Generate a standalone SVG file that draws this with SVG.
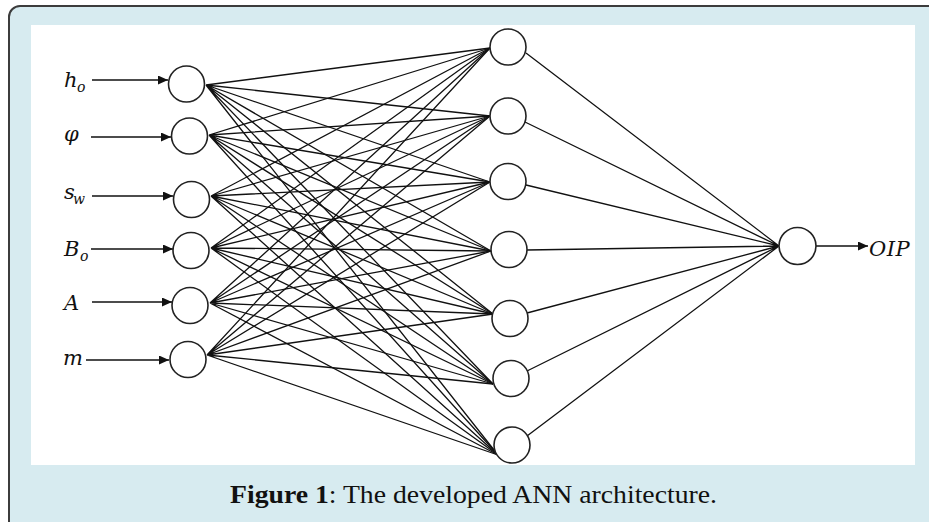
<svg xmlns="http://www.w3.org/2000/svg" width="929" height="522" viewBox="0 0 929 522">
  <style>
    .edge { stroke: #111; stroke-width: 1.3; fill: none; }
    .arrow { stroke: #111; stroke-width: 1.5; fill: none; }
    .node { fill: #fff; stroke: #222; stroke-width: 1.6; }
    .lbl { font-family: "DejaVu Serif", "Liberation Serif", serif; font-style: italic; font-size: 21px; fill: #111; }
    .sub { font-size: 14px; }
    .cap { font-family: "Liberation Serif", "DejaVu Serif", serif; font-size: 26px; fill: #111; }
  </style>
  <defs>
    <marker id="head" markerUnits="userSpaceOnUse" markerWidth="12" markerHeight="10" refX="10" refY="4.5" orient="auto">
      <path d="M0,0 L10,4.5 L0,9 Z" fill="#111"/>
    </marker>
  </defs>

  <!-- frame -->
  <rect x="9" y="6" width="940" height="530" rx="11" ry="11" fill="#d7ebf0" stroke="#3c3c3c" stroke-width="2"/>
  <rect x="31" y="25" width="884" height="440" fill="#fff"/>

  <!-- connectors -->
  <g id="connectors">
    <!-- input arrows -->
    <line class="arrow" x1="92" y1="80" x2="168" y2="80" marker-end="url(#head)"/>
    <line class="arrow" x1="91" y1="137" x2="171" y2="137" marker-end="url(#head)"/>
    <line class="arrow" x1="92" y1="196" x2="173" y2="196" marker-end="url(#head)"/>
    <line class="arrow" x1="91" y1="249" x2="173" y2="249" marker-end="url(#head)"/>
    <line class="arrow" x1="92" y1="302" x2="172" y2="302" marker-end="url(#head)"/>
    <line class="arrow" x1="86" y1="360" x2="169" y2="360" marker-end="url(#head)"/>

    <!-- input layer to hidden layer -->
    <path class="edge" d="M206,85 L490,48 M206,85 L490,116 M206,85 L490,182 M206,85 L491,251 M206,85 L493,314 M206,85 L493,384 M206,85 L498,455"/>
    <path class="edge" d="M209,135 L490,48 M209,135 L490,116 M209,135 L490,182 M209,135 L491,251 M209,135 L493,314 M209,135 L493,384 M209,135 L498,455"/>
    <path class="edge" d="M211,196 L490,48 M211,196 L490,116 M211,196 L490,182 M211,196 L491,251 M211,196 L493,314 M211,196 L493,384 M211,196 L498,455"/>
    <path class="edge" d="M211,248 L490,48 M211,248 L490,116 M211,248 L490,182 M211,248 L491,251 M211,248 L493,314 M211,248 L493,384 M211,248 L498,455"/>
    <path class="edge" d="M210,303 L490,48 M210,303 L490,116 M210,303 L490,182 M210,303 L491,251 M210,303 L493,314 M210,303 L493,384 M210,303 L498,455"/>
    <path class="edge" d="M207,355 L490,48 M207,355 L490,116 M207,355 L490,182 M207,355 L491,251 M207,355 L493,314 M207,355 L493,384 M207,355 L498,455"/>

    <!-- hidden layer to output -->
    <path class="edge" d="M526,53 L779,246 M525,122 L779,246 M526,185 L779,246 M527,250 L779,246 M527,313 L779,246 M527,371 L779,246 M527,436 L779,246"/>

    <!-- output arrow -->
    <line class="arrow" x1="816" y1="246" x2="868" y2="246" marker-end="url(#head)"/>
  </g>

  <!-- input nodes -->
  <g id="in-ho">
    <circle class="node" cx="186.5" cy="84" r="18"/>
    <text class="lbl" x="64" y="87">h<tspan class="sub" x="77" y="92">o</tspan></text>
  </g>
  <g id="in-phi">
    <circle class="node" cx="189.5" cy="136" r="18"/>
    <text class="lbl" x="64" y="141">φ</text>
  </g>
  <g id="in-sw">
    <circle class="node" cx="191.5" cy="199.5" r="18"/>
    <text class="lbl" x="64" y="199">s<tspan class="sub" x="73" y="204">w</tspan></text>
  </g>
  <g id="in-bo">
    <circle class="node" cx="191" cy="250.5" r="18"/>
    <text class="lbl" x="64" y="256">B<tspan class="sub" x="80" y="261">o</tspan></text>
  </g>
  <g id="in-a">
    <circle class="node" cx="190" cy="305.5" r="18"/>
    <text class="lbl" x="64" y="310">A</text>
  </g>
  <g id="in-m">
    <circle class="node" cx="188" cy="359.5" r="18"/>
    <text class="lbl" x="63" y="365">m</text>
  </g>

  <!-- hidden nodes -->
  <g id="hid-1"><circle class="node" cx="508" cy="47" r="18"/></g>
  <g id="hid-2"><circle class="node" cx="508" cy="116" r="18"/></g>
  <g id="hid-3"><circle class="node" cx="508" cy="181.5" r="18"/></g>
  <g id="hid-4"><circle class="node" cx="509" cy="249.5" r="18"/></g>
  <g id="hid-5"><circle class="node" cx="510" cy="318.5" r="18"/></g>
  <g id="hid-6"><circle class="node" cx="511" cy="378.5" r="18"/></g>
  <g id="hid-7"><circle class="node" cx="512" cy="445" r="18"/></g>

  <!-- output node -->
  <g id="out">
    <circle class="node" cx="797.5" cy="246" r="18.5"/>
    <text class="lbl" x="869" y="255.5" font-size="20" letter-spacing="0.5">OIP</text>
  </g>

  <!-- caption -->
  <text class="cap" x="230" y="503" textLength="487" lengthAdjust="spacingAndGlyphs"><tspan font-weight="bold">Figure 1</tspan>: The developed ANN architecture.</text>
</svg>
